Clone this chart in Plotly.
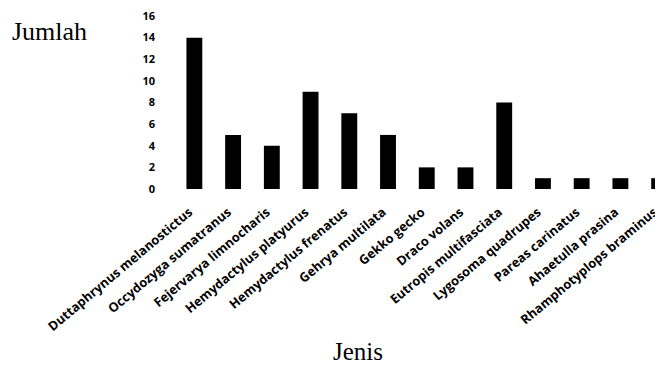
import plotly.graph_objects as go

jenis = [
    "Duttaphrynus melanostictus", "Occydozyga sumatranus", "Fejervarya limnocharis",
    "Hemydactylus platyurus", "Hemydactylus frenatus", "Gehrya multilata",
    "Gekko gecko", "Draco volans", "Eutropis multifasciata", "Lygosoma quadrupes",
    "Pareas carinatus", "Ahaetulla prasina", "Rhamphotyplops braminus",
]
jumlah = [14, 5, 4, 9, 7, 5, 2, 2, 8, 1, 1, 1, 1]
y_ticks = [0, 2, 4, 6, 8, 10, 12, 14, 16]

# page body has an 8px margin; work in figure coordinates = screen - 8
OFF = 8
W, H = 663 - OFF, 366 - OFF
L, R, T = 175 - OFF, 0, 16 - OFF
BOTTOM = 189 - OFF
B = H - BOTTOM
PW, PH = W - L - R, H - T - B


def px(x):
    return (x - OFF - L) / PW


def py(y):
    return (H - B - (y - OFF)) / PH


fig = go.Figure(go.Bar(x=list(range(len(jenis))), y=jumlah,
                       marker=dict(color="black", line=dict(width=0))))

fig.update_layout(
    width=W, height=H,
    margin=dict(l=L, r=R, t=T, b=B, autoexpand=False),
    paper_bgcolor="white", plot_bgcolor="white",
    bargap=0.59,
    showlegend=False,
    font=dict(family="Open Sans", color="black"),
    annotations=[
        dict(text="Jumlah", x=px(49), y=py(32), xref="paper", yref="paper", showarrow=False,
             xanchor="center", yanchor="middle",
             font=dict(family="Liberation Serif", size=26, color="black")),
        dict(text="Jenis", x=px(358), y=py(351), xref="paper", yref="paper", showarrow=False,
             xanchor="center", yanchor="middle",
             font=dict(family="Liberation Serif", size=25, color="black")),
    ],
)

fig.update_xaxes(
    range=[-0.5, 12.1], automargin=False,
    tickmode="array", tickvals=list(range(len(jenis))),
    ticktext=[j + "\u00a0\u00a0" for j in jenis],
    tickangle=-40, ticklabeloverflow="allow",
    tickfont=dict(family="Open Sans", size=12.8, color="black", weight="bold"),
    showline=False, showgrid=False, zeroline=False,
    ticks="", ticklabelstandoff=8,
)
fig.update_yaxes(
    range=[0, 16], automargin=False,
    tickmode="array", tickvals=y_ticks, ticklabeloverflow="allow",
    tickfont=dict(family="Open Sans", size=11, color="black", weight="bold"),
    showline=False, showgrid=False, zeroline=False,
    ticks="", ticklabelstandoff=19,
)

fig.write_html("out.html")
